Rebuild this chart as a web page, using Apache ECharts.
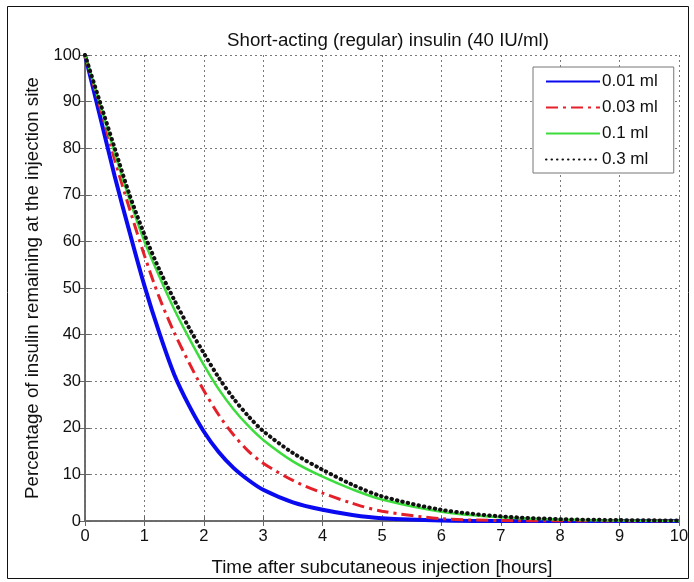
<!DOCTYPE html>
<html>
<head>
<meta charset="utf-8">
<script src="https://cdn.jsdelivr.net/npm/echarts@6/dist/echarts.min.js"></script>
<style>html,body{margin:0;padding:0;background:#fff}#c{width:694px;height:582px}</style>
</head>
<body>
<div id="c"></div>
<script>
const titleText = 'Short-acting (regular) insulin (40 IU/ml)';
const xTitle = 'Time after subcutaneous injection [hours]';
const yTitle = 'Percentage of insulin remaining at the injection site';
const hours = [0,0.25,0.5,0.75,1,1.25,1.5,1.75,2,2.25,2.5,2.75,3,3.5,4,4.5,5,6,7,8,9,10];
const seriesNames = ['0.01 ml','0.03 ml','0.1 ml','0.3 ml'];
const v001 = [100,87,74,62,50.5,40.4,31.5,24.8,19.2,14.8,11.4,8.8,6.7,4.0,2.4,1.3,0.6,0.1,0,0,0,0];
const v003 = [100,89,77.5,67,57,48,40.5,34,28,22.8,18.5,15.0,12.4,8.7,6,3.8,2.1,0.5,0.1,0,0,0];
const v01  = [100,89.5,79,69,60,52.5,45.5,39.3,33.5,28.3,24,20.4,17.4,12.8,9.5,6.8,4.6,2,0.8,0.3,0.1,0];
const v03  = [100,90,80,70,61.5,54,47.5,41.5,36,30.8,26.3,22.5,19.3,14.6,11,7.8,5.3,2.4,1,0.4,0.2,0.1];
const xTicks = [0,1,2,3,4,5,6,7,8,9,10];
const yTicks = [0,10,20,30,40,50,60,70,80,90,100];

const pair = v => hours.map((h,i)=>[h,v[i]]);
const font = 'Liberation Sans, Arial, sans-serif';
const chart = echarts.init(document.getElementById('c'));
const gridLine = {show:true, lineStyle:{color:'#7a7a7a', width:1, type:[2,3]}};
const axisLine = {show:true, lineStyle:{color:'#666', width:1.5}};
const tick = {show:true, inside:true, length:5, lineStyle:{color:'#666'}};
chart.setOption({
  animation:false,
  backgroundColor:'#fff',
  title:{text:titleText, left:383, top:26, textAlign:'center',
    textStyle:{fontFamily:font, fontSize:18.7, fontWeight:'normal', color:'#111'}},
  graphic:[{type:'rect', shape:{x:7.5,y:6.5,width:681,height:572}, style:{fill:null, stroke:'#111', lineWidth:1}, silent:true}],
  grid:{left:85, right:15, top:55, bottom:61},
  legend:{orient:'vertical', left:533, top:67, padding:[6,16,5,12], itemGap:9,
    itemWidth:54, itemHeight:16, backgroundColor:'#fff', borderColor:'#777', borderWidth:1,
    itemStyle:{color:'rgba(0,0,0,0)', borderColor:'rgba(0,0,0,0)', borderWidth:0},
    textStyle:{fontFamily:font, fontSize:17, color:'#111', padding:[0,0,0,-3]},
    data:seriesNames},
  xAxis:[{type:'value', min:0, max:10, interval:1, name:xTitle, nameLocation:'middle', nameGap:37,
    nameTextStyle:{fontFamily:font, fontSize:18.7, color:'#111'},
    axisLine:axisLine, axisTick:tick, splitLine:gridLine,
    axisLabel:{fontFamily:font, fontSize:16.5, color:'#111', margin:7, formatter:v=>xTicks.includes(v)?String(v):''}},
    {type:'value', min:0, max:10, interval:1, position:'top', axisLine:axisLine, axisTick:tick,
     axisLabel:{show:false}, splitLine:{show:false}}],
  yAxis:[{type:'value', min:0, max:100, interval:10, name:yTitle, nameLocation:'middle', nameGap:42,
    nameTextStyle:{fontFamily:font, fontSize:18.7, color:'#111'},
    axisLine:axisLine, axisTick:tick, splitLine:gridLine,
    axisLabel:{fontFamily:font, fontSize:16.5, color:'#111', margin:4, formatter:v=>yTicks.includes(v)?String(v):''}},
    {type:'value', min:0, max:100, interval:10, position:'right', axisLine:axisLine, axisTick:tick,
     axisLabel:{show:false}, splitLine:{show:false}}],
  series:[
    {name:seriesNames[0], type:'line', data:pair(v001), smooth:0.3, symbol:'none', z:2,
     itemStyle:{color:'#0a0af0'}, lineStyle:{color:'#0a0af0', width:4}},
    {name:seriesNames[1], type:'line', data:pair(v003), smooth:0.3, symbol:'none', z:3,
     itemStyle:{color:'#e4202a'}, lineStyle:{color:'#e4202a', width:3, type:[12,5,3,5]}},
    {name:seriesNames[2], type:'line', data:pair(v01), smooth:0.3, symbol:'none', z:4,
     itemStyle:{color:'#3ddc3d'}, lineStyle:{color:'#3ddc3d', width:2.5}},
    {name:seriesNames[3], type:'line', data:pair(v03), smooth:0.3, symbol:'none', z:5,
     itemStyle:{color:'#111'}, lineStyle:{color:'#111', width:4, type:[0.5,5], cap:'round'}}
  ]
});
</script>
</body>
</html>
